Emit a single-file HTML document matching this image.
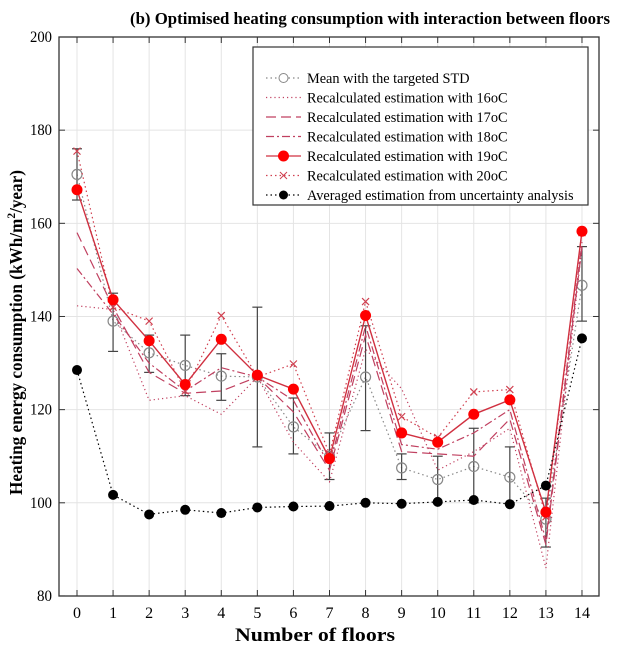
<!DOCTYPE html>
<html><head><meta charset="utf-8"><style>
body{margin:0;background:#fff}
svg{display:block;font-family:"Liberation Serif",serif}
</style></head><body>
<svg id="s" width="618" height="663" xmlns="http://www.w3.org/2000/svg"></svg>
<script>
const X=i=>77+i*36.07, Y=v=>37+(200-v)*4.658;
let h='';
h+='<rect x="0" y="0" width="618" height="663" fill="#fff"/>';
for(let i=0;i<15;i++)h+=`<line x1="${X(i)}" y1="37" x2="${X(i)}" y2="596" stroke="#e4e4e4" stroke-width="1"/>`;
for(let v=80;v<=200;v+=20)h+=`<line x1="59" y1="${Y(v)}" x2="599" y2="${Y(v)}" stroke="#e4e4e4" stroke-width="1"/>`;
h+='<rect x="59" y="37" width="540" height="559" fill="none" stroke="#333" stroke-width="1.3"/>';
for(let i=0;i<15;i++){h+=`<line x1="${X(i)}" y1="596" x2="${X(i)}" y2="590" stroke="#333"/><line x1="${X(i)}" y1="37" x2="${X(i)}" y2="43" stroke="#333"/><text x="${X(i)}" y="618" font-size="16" text-anchor="middle">${i}</text>`;}
for(let v=80;v<=200;v+=20){const tl=v>=100?22:15;h+=`<line x1="59" y1="${Y(v)}" x2="65" y2="${Y(v)}" stroke="#333"/><line x1="599" y1="${Y(v)}" x2="593" y2="${Y(v)}" stroke="#333"/><text x="52" y="${Y(v)+5}" font-size="16" text-anchor="end" textLength="${tl}" lengthAdjust="spacingAndGlyphs">${v}</text>`;}
h+='<text x="370" y="24" font-size="17" font-weight="bold" text-anchor="middle" textLength="480" lengthAdjust="spacingAndGlyphs">(b) Optimised heating consumption with interaction between floors</text>';
h+='<text x="315" y="641" font-size="19" font-weight="bold" text-anchor="middle" textLength="160" lengthAdjust="spacingAndGlyphs">Number of floors</text>';
h+='<text transform="translate(22,495) rotate(-90)" font-size="18" font-weight="bold" textLength="325" lengthAdjust="spacingAndGlyphs">Heating energy consumption (kWh/m<tspan dy="-7" font-size="12">2</tspan><tspan dy="7">/year)</tspan></text>';
const pts=a=>a.map((v,i)=>X(i).toFixed(1)+','+Y(v).toFixed(1)).join(' ');
const line=(a,c,dash,w)=>`<polyline points="${pts(a)}" fill="none" stroke="${c}" stroke-width="${w||1.2}" ${dash?`stroke-dasharray="${dash}"`:''}/>`;
const mean=[170.5,139,132.2,129.5,127.2,127,116.3,110,127,107.5,105,107.8,105.5,96.5,146.7];
const eb=[[165,176],[132.5,145],[128,136],[123,136],[122,132],[112,142],[110.5,122.5],[105,115],[115.5,138],[105,110.5],[100,110],[100,116],[100,112],[90.5,101],[139,155]];
const r19=[167.2,143.6,134.8,125.4,135.1,127.4,124.4,109.5,140.2,115,113,119,122.1,98,158.3];
const r20=[175.5,142,139,124,140.2,127,129.8,110.5,143.2,118.5,114,123.8,124.3,97,158];
const r16=[142.3,141.5,122,123,119,127,113,104.5,133,124.5,107,111,116,86,155];
const r17=[158,142,128,123.5,124,127,119.5,107,136,111,110.5,110,118,91,155];
const r18=[150.3,140.5,130,124,129,127,122,108,138,112.5,111.5,115,120,92,156];
const avg=[128.5,101.7,97.5,98.5,97.8,99,99.2,99.3,100,99.8,100.2,100.6,99.7,103.7,135.3];
h+=line(mean,'#888','1.5,3');
eb.forEach((e,i)=>{const x=X(i);h+=`<line x1="${x}" y1="${Y(e[0])}" x2="${x}" y2="${Y(e[1])}" stroke="#444" stroke-width="1.2"/><line x1="${x-5}" y1="${Y(e[0])}" x2="${x+5}" y2="${Y(e[0])}" stroke="#444" stroke-width="1.2"/><line x1="${x-5}" y1="${Y(e[1])}" x2="${x+5}" y2="${Y(e[1])}" stroke="#444" stroke-width="1.2"/>`;});
mean.forEach((v,i)=>h+=`<circle cx="${X(i)}" cy="${Y(v)}" r="5" fill="none" stroke="#888" stroke-width="1.2"/>`);
h+=line(r16,'#c04060','1.2,3');
h+=line(r17,'#c04060','10,5');
h+=line(r18,'#c04060','8,3,2,3');
h+=line(r20,'#d04050','1.5,3');
r20.forEach((v,i)=>{const x=X(i),y=Y(v);h+=`<path d="M${x-3.5},${y-3.5}L${x+3.5},${y+3.5}M${x-3.5},${y+3.5}L${x+3.5},${y-3.5}" stroke="#d04050" stroke-width="1.2"/>`;});
h+=line(r19,'#d03040','',1.4);
r19.forEach((v,i)=>h+=`<circle cx="${X(i)}" cy="${Y(v)}" r="5.5" fill="#f00"/>`);
h+=line(avg,'#000','1.5,3');
avg.forEach((v,i)=>h+=`<circle cx="${X(i)}" cy="${Y(v)}" r="5" fill="#000"/>`);
h+='<rect x="253" y="47" width="335" height="158" fill="#fff" stroke="#333" stroke-width="1.2"/>';
const L=[['Mean with the targeted STD','#888','1.5,3','oc'],['Recalculated estimation with 16oC','#c04060','1.2,3',''],['Recalculated estimation with 17oC','#c04060','10,5',''],['Recalculated estimation with 18oC','#c04060','8,3,2,3',''],['Recalculated estimation with 19oC','#d03040','','rc'],['Recalculated estimation with 20oC','#d04050','1.5,3','x'],['Averaged estimation from uncertainty analysis','#000','1.5,3','bc']];
L.forEach((e,k)=>{const y=78+k*19.5;h+=`<line x1="266" y1="${y}" x2="301" y2="${y}" stroke="${e[1]}" stroke-width="1.2" ${e[2]?`stroke-dasharray="${e[2]}"`:''}/>`;
if(e[3]=='oc')h+=`<circle cx="283.5" cy="${y}" r="4.5" fill="#fff" stroke="#888"/>`;
if(e[3]=='rc')h+=`<circle cx="283.5" cy="${y}" r="5.5" fill="#f00"/>`;
if(e[3]=='bc')h+=`<circle cx="283.5" cy="${y}" r="4.5" fill="#000"/>`;
if(e[3]=='x')h+=`<path d="M280,${y-3.5}L287,${y+3.5}M280,${y+3.5}L287,${y-3.5}" stroke="#d04050"/>`;
h+=`<text x="307" y="${y+5}" font-size="14.3">${e[0]}</text>`;});
document.getElementById('s').innerHTML=h;
</script>
</body></html>
